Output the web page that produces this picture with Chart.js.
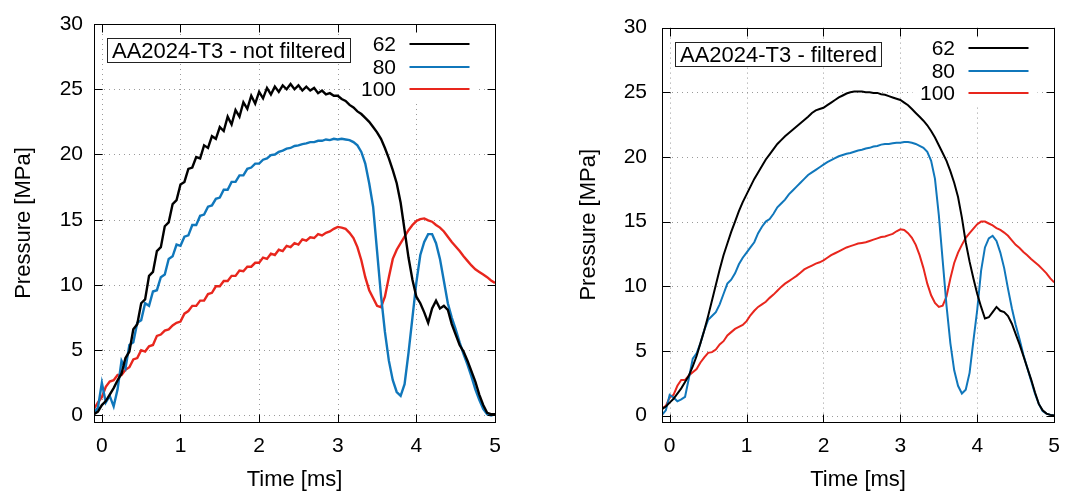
<!DOCTYPE html>
<html>
<head>
<meta charset="utf-8">
<script src="https://cdn.jsdelivr.net/npm/chart.js@4"></script>
<style>
  html, body { margin: 0; padding: 0; background: #fff; }
  #wrap { position: relative; width: 1072px; height: 491px; }
  canvas { position: absolute; top: 0; }
</style>
</head>
<body>
<div id="wrap">
  <canvas id="rawChart" width="536" height="491" style="left:0"></canvas>
  <canvas id="filtChart" width="536" height="491" style="left:536px"></canvas>
</div>
<script>
'use strict';

// time axis shared by every series [ms]
const timeMs = [
  -0.1, -0.05, 0, 0.05, 0.1, 0.15, 0.2, 0.25, 0.3, 0.35,
  0.4, 0.45, 0.5, 0.55, 0.6, 0.65, 0.7, 0.75, 0.8, 0.85,
  0.9, 0.95, 1, 1.05, 1.1, 1.15, 1.2, 1.25, 1.3, 1.35,
  1.4, 1.45, 1.5, 1.55, 1.6, 1.65, 1.7, 1.75, 1.8, 1.85,
  1.9, 1.95, 2, 2.05, 2.1, 2.15, 2.2, 2.25, 2.3, 2.35,
  2.4, 2.45, 2.5, 2.55, 2.6, 2.65, 2.7, 2.75, 2.8, 2.85,
  2.9, 2.95, 3, 3.05, 3.1, 3.15, 3.2, 3.25, 3.3, 3.35,
  3.4, 3.45, 3.5, 3.55, 3.6, 3.65, 3.7, 3.75, 3.8, 3.85,
  3.9, 3.95, 4, 4.05, 4.1, 4.15, 4.2, 4.25, 4.3, 4.35,
  4.4, 4.45, 4.5, 4.55, 4.6, 4.65, 4.7, 4.75, 4.8, 4.85,
  4.9, 4.95, 5
];

const seriesLabels = ['62', '80', '100'];

// not filtered [MPa]
const rawP62 = [
  0.1, 0.3, 0.8, 1.1, 1.6, 2.1, 2.7, 3.2, 4.4, 4.9,
  6.6, 7.0, 8.6, 8.9, 10.7, 11.0, 12.6, 12.9, 14.5, 14.8,
  16.2, 16.5, 17.7, 17.9, 18.9, 19.0, 19.8, 19.7, 20.7, 20.5,
  21.4, 21.2, 22.1, 21.8, 22.9, 22.3, 23.4, 22.9, 24.0, 23.5,
  24.5, 23.9, 24.8, 24.3, 25.1, 24.6, 25.2, 24.8, 25.3, 25.0,
  25.4, 25.0, 25.3, 24.9, 25.2, 24.9, 25.1, 24.7, 24.9, 24.6,
  24.7, 24.5, 24.5, 24.25, 24.1, 23.8, 23.6, 23.3, 23.1, 22.8,
  22.5, 22.1, 21.7, 21.2, 20.5, 19.7, 18.8, 17.8, 16.3, 14.2,
  12.1, 10.4, 9.1, 8.6, 7.9, 7.1, 8.2, 8.8, 8.2, 8.4,
  8.1, 7.0, 6.2, 5.4, 4.9, 4.2, 3.4, 2.6, 1.6, 0.8,
  0.2, 0.1, 0.1
];
const rawP80 = [
  0.2, 0.6, 2.5, 1.0, 1.5, 0.7, 2.0, 4.2, 3.6, 5.4,
  5.6, 7.1, 7.3, 8.6, 8.4, 9.5, 9.6, 10.6, 10.8, 12.0,
  12.2, 13.1, 13.0, 13.7, 13.8, 14.6, 14.6, 15.3, 15.4, 16.0,
  16.1, 16.6, 16.7, 17.3, 17.3, 17.9, 17.9, 18.4, 18.4, 18.9,
  19.0, 19.3, 19.3, 19.6, 19.7, 19.95, 20.0, 20.2, 20.3, 20.45,
  20.5, 20.65, 20.7, 20.8, 20.85, 20.95, 20.95, 21.05, 21.05, 21.15,
  21.1, 21.2, 21.15, 21.2, 21.15, 21.1, 20.95, 20.7, 20.2, 19.3,
  17.8, 16.0, 12.6, 9.2, 6.4, 4.2, 2.7, 1.8, 1.5, 2.4,
  4.8, 7.5, 10.2, 12.3, 13.3, 13.9, 13.9, 13.2, 12.0, 10.3,
  8.6, 7.5, 6.6, 5.6, 4.7, 3.9, 3.0, 2.0, 1.2, 0.5,
  0.1, 0.0, 0.1
];
const rawP100 = [
  0.5, 1.0, 1.4, 2.2, 2.6, 2.7, 3.1, 3.1, 3.5, 3.7,
  4.3, 4.4, 5.0, 4.9, 5.3, 5.4, 6.1, 6.2, 6.5, 6.6,
  6.9, 7.1, 7.2, 7.8, 8.0, 8.4, 8.4, 8.8, 8.8, 9.3,
  9.4, 9.9, 9.9, 10.3, 10.3, 10.7, 10.7, 11.1, 11.05, 11.4,
  11.4, 11.7, 11.7, 12.1, 12.0, 12.4, 12.3, 12.7, 12.6, 13.0,
  12.9, 13.2, 13.1, 13.5, 13.4, 13.65, 13.6, 13.9, 13.8, 14.0,
  14.1, 14.3, 14.45, 14.4, 14.3, 14.0, 13.6, 12.9, 11.9, 10.6,
  9.6, 9.0, 8.4, 8.3, 9.1, 10.6, 12.0, 12.7, 13.2, 13.7,
  14.2, 14.6, 14.9, 15.05, 15.1, 14.95, 14.85, 14.6, 14.4, 14.1,
  13.7, 13.3, 12.95, 12.6, 12.2, 11.85, 11.5, 11.2, 11.0, 10.8,
  10.6, 10.35, 10.15
];

// filtered [MPa]
const filtP62 = [
  0.5, 0.7, 1.0, 1.3, 1.7, 2.1, 2.6, 3.1, 3.8, 4.6,
  5.6, 6.6, 7.7, 8.9, 10.1, 11.3, 12.4, 13.3, 14.2, 15.0,
  15.8, 16.5, 17.1, 17.7, 18.3, 18.8, 19.3, 19.8, 20.2, 20.6,
  21.0, 21.3, 21.6, 21.85, 22.1, 22.35, 22.6, 22.85, 23.1, 23.4,
  23.6, 23.7, 23.8, 24.0, 24.2, 24.4, 24.6, 24.75, 24.9, 25.0,
  25.05, 25.05, 25.05, 25.0, 25.0, 24.95, 24.95, 24.85, 24.8, 24.7,
  24.6, 24.5, 24.4, 24.2, 24.0, 23.7, 23.4, 23.1, 22.8, 22.45,
  22.0, 21.5, 20.9, 20.3, 19.7, 18.9, 18.0, 16.9, 15.3, 13.4,
  11.9, 10.6, 9.4, 8.4, 7.5, 7.6, 8.0, 8.4, 8.1, 8.0,
  7.7, 7.1, 6.3, 5.5, 4.6, 3.7, 2.8, 1.8, 0.9, 0.4,
  0.15, 0.05, 0.0
];
const filtP80 = [
  0.05, 0.4, 1.6, 1.4, 1.1, 1.25, 1.45, 2.9, 4.4, 4.8,
  5.6, 6.6, 7.4, 7.7, 8.0, 8.6, 9.4, 10.2, 10.5, 11.0,
  11.7, 12.2, 12.6, 13.0, 13.4, 14.1, 14.6, 15.0, 15.2, 15.6,
  16.1, 16.4, 16.7, 17.1, 17.4, 17.7, 18.0, 18.3, 18.6, 18.8,
  19.0, 19.2, 19.4, 19.6, 19.75, 19.9, 20.05, 20.15, 20.25, 20.3,
  20.4, 20.5, 20.55, 20.65, 20.7, 20.8, 20.85, 20.95, 21.0, 21.0,
  21.05, 21.1, 21.1, 21.15, 21.15, 21.1, 21.0, 20.85, 20.7, 20.4,
  19.7, 18.3, 15.5, 12.0, 8.5, 5.6, 3.5, 2.3, 1.7, 2.0,
  3.3, 5.8, 8.2, 11.2, 13.0, 13.7, 13.9, 13.5, 12.6, 11.4,
  9.8, 8.3, 7.0, 5.9, 4.7, 3.7, 2.7, 1.7, 0.9, 0.35,
  0.15, 0.05, 0.0
];
const filtP100 = [
  0.55, 0.75, 1.4, 1.6, 2.3, 2.75, 2.75, 3.1, 3.35, 3.6,
  4.1, 4.5, 4.85, 4.9, 5.1, 5.5, 5.75, 6.2, 6.45, 6.7,
  6.85, 7.0, 7.3, 7.75, 8.1, 8.4, 8.6, 8.8, 9.1, 9.35,
  9.65, 9.95, 10.2, 10.4, 10.6, 10.8, 11.05, 11.3, 11.45, 11.6,
  11.75, 11.85, 12.0, 12.2, 12.4, 12.55, 12.7, 12.85, 13.0, 13.1,
  13.2, 13.3, 13.35, 13.4, 13.5, 13.6, 13.7, 13.8, 13.85, 13.95,
  14.05, 14.25, 14.4, 14.35, 14.1, 13.75, 13.2, 12.4, 11.4, 10.2,
  9.3, 8.7, 8.4, 8.5, 9.2, 10.6, 11.8, 12.6, 13.2, 13.75,
  14.1, 14.45, 14.8, 15.0, 15.0, 14.85, 14.7, 14.5, 14.35, 14.15,
  13.9, 13.55, 13.2, 12.95, 12.65, 12.4, 12.1, 11.85, 11.6, 11.3,
  11.0, 10.6, 10.3
];

const xTicks = [0, 1, 2, 3, 4, 5];
const yTicks = [0, 5, 10, 15, 20, 25, 30];

const FONT = '"Liberation Sans", Arial, Helvetica, sans-serif';
const lineColors = ['#000000', '#1077bb', '#e8261d'];

Chart.defaults.font.family = FONT;
Chart.defaults.color = '#000';

function toPoints(values) {
  return values.map((p, i) => ({ x: timeMs[i], y: p }));
}

// gnuplot look: dotted grid, inward tics on all sides, boxed title, opaque key
const gnuplotLook = {
  id: 'gnuplotLook',
  beforeDatasetsDraw(chart) {
    const { ctx, chartArea: a, scales: { x, y } } = chart;
    ctx.save();
    ctx.strokeStyle = '#9a9a9a';
    ctx.lineWidth = 1;
    ctx.setLineDash([1, 4]);
    ctx.beginPath();
    xTicks.forEach(v => {
      const px = Math.round(x.getPixelForValue(v)) + 0.5;
      ctx.moveTo(px, a.top);
      ctx.lineTo(px, a.bottom);
    });
    yTicks.forEach(v => {
      const py = Math.round(y.getPixelForValue(v)) + 0.5;
      ctx.moveTo(a.left, py);
      ctx.lineTo(a.right, py);
    });
    ctx.stroke();
    ctx.restore();
  },
  afterDraw(chart, args, opts) {
    const { ctx, chartArea: a, scales: { x, y } } = chart;
    const L = Math.round(a.left) + 0.5;
    const R = Math.round(a.right) + 0.5;
    const T = Math.round(a.top) + 0.5;
    const B = Math.round(a.bottom) + 0.5;
    ctx.save();
    ctx.setLineDash([]);

    // title box
    ctx.font = '22px ' + FONT;
    const tw = ctx.measureText(opts.title).width;
    const bx = L + 13, by = T + 14, bw = Math.round(tw + 9), bh = 24;
    ctx.fillStyle = '#fff';
    ctx.fillRect(bx, by, bw, bh);
    ctx.strokeStyle = '#222';
    ctx.lineWidth = 1;
    ctx.strokeRect(bx, by, bw, bh);
    ctx.fillStyle = '#000';
    ctx.textAlign = 'left';
    ctx.textBaseline = 'middle';
    ctx.fillText(opts.title, bx + 4.5, by + bh / 2 + 1);

    // key
    ctx.fillStyle = '#fff';
    ctx.fillRect(R - 142, T + 9, 125, 68);
    ctx.font = '21px ' + FONT;
    ctx.textAlign = 'right';
    chart.data.datasets.forEach((ds, i) => {
      const ry = Math.round(T + 19.5 + i * 22.6);
      ctx.fillStyle = '#000';
      ctx.fillText(ds.label, R - 99.5, ry + 1);
      ctx.strokeStyle = ds.borderColor;
      ctx.lineWidth = 2;
      ctx.beginPath();
      ctx.moveTo(R - 86, ry);
      ctx.lineTo(R - 26, ry);
      ctx.stroke();
    });

    // inward tics
    ctx.strokeStyle = '#000';
    ctx.lineWidth = 1;
    ctx.beginPath();
    xTicks.forEach(v => {
      const px = Math.round(x.getPixelForValue(v)) + 0.5;
      ctx.moveTo(px, B); ctx.lineTo(px, B - 8);
      ctx.moveTo(px, T); ctx.lineTo(px, T + 8);
    });
    yTicks.forEach(v => {
      const py = Math.round(y.getPixelForValue(v)) + 0.5;
      ctx.moveTo(L, py); ctx.lineTo(L + 8, py);
      ctx.moveTo(R, py); ctx.lineTo(R - 8, py);
    });
    ctx.stroke();

    // frame
    ctx.strokeRect(L, T, R - L, B - T);
    ctx.restore();
  }
};

function buildChart(canvasId, panel) {
  return new Chart(document.getElementById(canvasId), {
    type: 'line',
    data: {
      datasets: panel.series.map((vals, i) => ({
        label: seriesLabels[i],
        data: toPoints(vals),
        borderColor: lineColors[i],
        borderWidth: panel.lineWidth,
        pointRadius: 0,
        tension: 0,
        fill: false
      }))
    },
    options: {
      responsive: false,
      animation: false,
      devicePixelRatio: 1,
      layout: { padding: { top: 24, right: panel.padRight, left: 0, bottom: 0 } },
      plugins: {
        legend: { display: false },
        tooltip: { enabled: false },
        gnuplotLook: { title: panel.title }
      },
      scales: {
        x: {
          type: 'linear',
          min: -0.1,
          max: 5,
          afterBuildTicks: s => { s.ticks = xTicks.map(v => ({ value: v })); },
          afterFit: s => { s.height = 69; },
          grid: { display: false, drawTicks: false },
          border: { display: false },
          ticks: { font: { size: 21 }, color: '#000', padding: 12, maxRotation: 0, autoSkip: false },
          title: { display: true, text: 'Time [ms]', font: { size: 22 }, color: '#000', padding: { top: 0, bottom: -2 } }
        },
        y: {
          type: 'linear',
          min: -0.5,
          max: 30,
          afterBuildTicks: s => { s.ticks = yTicks.map(v => ({ value: v })); },
          afterFit: s => { s.width = panel.yWidth; },
          grid: { display: false, drawTicks: false },
          border: { display: false },
          ticks: { font: { size: 21 }, color: '#000', padding: panel.yTickPad, autoSkip: false },
          title: { display: true, text: 'Pressure [MPa]', font: { size: 22 }, color: '#000', padding: { top: panel.yTitlePad, bottom: 0 } }
        }
      }
    },
    plugins: [gnuplotLook]
  });
}

buildChart('rawChart', {
  title: 'AA2024-T3 - not filtered',
  series: [rawP62, rawP80, rawP100],
  lineWidth: 2.4,
  padRight: 41,
  yWidth: 94,
  yTickPad: 11,
  yTitlePad: 11
});

buildChart('filtChart', {
  title: 'AA2024-T3 - filtered',
  series: [filtP62, filtP80, filtP100],
  lineWidth: 2,
  padRight: 10,
  yWidth: 126,
  yTickPad: 15,
  yTitlePad: 40
});
</script>
</body>
</html>
